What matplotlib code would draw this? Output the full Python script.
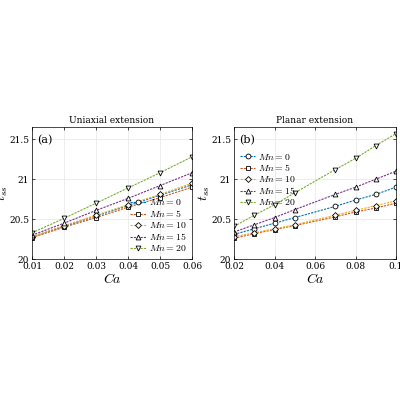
import matplotlib
matplotlib.use("Agg")
import matplotlib.pyplot as plt

plt.rcParams["mathtext.fontset"] = "cm"
plt.rcParams["font.family"] = "DejaVu Serif"

mn_vals = [0, 5, 10, 15, 20]
markers = ["o", "s", "D", "^", "v"]
colors = ["#0072BD", "#D95319", "#EDB120", "#7E2F8E", "#77AC30"]

ca_uni = [0.01, 0.02, 0.03, 0.04, 0.05, 0.06]
tss_uni = [
    [20.28, 20.41, 20.54, 20.67, 20.80, 20.93],
    [20.27, 20.40, 20.52, 20.65, 20.77, 20.90],
    [20.28, 20.42, 20.55, 20.68, 20.81, 20.95],
    [20.30, 20.45, 20.61, 20.76, 20.92, 21.08],
    [20.33, 20.51, 20.70, 20.89, 21.08, 21.28],
]

ca_pla = [0.02, 0.03, 0.04, 0.05, 0.07, 0.08, 0.09, 0.1]
tss_pla = [
    [20.31, 20.38, 20.45, 20.52, 20.66, 20.74, 20.81, 20.90],
    [20.26, 20.32, 20.37, 20.42, 20.53, 20.59, 20.64, 20.70],
    [20.28, 20.33, 20.38, 20.43, 20.55, 20.61, 20.67, 20.73],
    [20.34, 20.43, 20.52, 20.62, 20.81, 20.90, 21.00, 21.10],
    [20.41, 20.55, 20.68, 20.83, 21.12, 21.26, 21.42, 21.57],
]

fig = plt.figure(figsize=(4, 4), dpi=100)
ax1 = fig.add_axes([0.08, 0.352, 0.40, 0.33])
ax2 = fig.add_axes([0.585, 0.352, 0.405, 0.33])

def draw(ax, ca, tss, title, tag, xticks, xlim, legloc, anchor):
    for i, mn in enumerate(mn_vals):
        ms = 3.0 if markers[i] == "D" else 3.5
        ax.plot(ca, tss[i], ls=(0, (2, 1)), lw=0.8, color=colors[i],
                marker=markers[i], ms=ms, mfc="white", mec="black", mew=0.6,
                label=rf"$Mn={mn}$")
    ax.set_xlim(*xlim)
    ax.set_ylim(20, 21.65)
    ax.set_xticks(xticks)
    ax.set_xticklabels([f"{t:g}" for t in xticks])
    ax.set_yticks([20, 20.5, 21, 21.5])
    ax.set_yticklabels(["20", "20.5", "21", "21.5"])
    ax.tick_params(labelsize=6.5, direction="in", length=2, width=0.5, top=True, right=True, pad=2)
    ax.grid(True, color="#e6e6e6", lw=0.5)
    for s in ax.spines.values():
        s.set_linewidth(0.5)
    ax.set_title(title, fontsize=6.5, pad=3)
    ax.set_xlabel(r"$Ca$", fontsize=10, labelpad=1)
    ax.set_ylabel(r"$t_{ss}$", fontsize=10, labelpad=-1)
    ax.text(0.03, 0.94, tag, transform=ax.transAxes, fontsize=8, va="top")
    ax.legend(loc=legloc, bbox_to_anchor=anchor, fontsize=7, frameon=False,
              handlelength=1.6, labelspacing=0.1, borderaxespad=0.2,
              handletextpad=0.3)

draw(ax1, ca_uni, tss_uni, "Uniaxial extension", "(a)",
     [0.01, 0.02, 0.03, 0.04, 0.05, 0.06], (0.01, 0.06), "lower right", None)
draw(ax2, ca_pla, tss_pla, "Planar extension", "(b)",
     [0.02, 0.04, 0.06, 0.08, 0.1], (0.02, 0.1), "upper left", (0.0, 0.86))

fig.savefig("out.png", dpi=100)
